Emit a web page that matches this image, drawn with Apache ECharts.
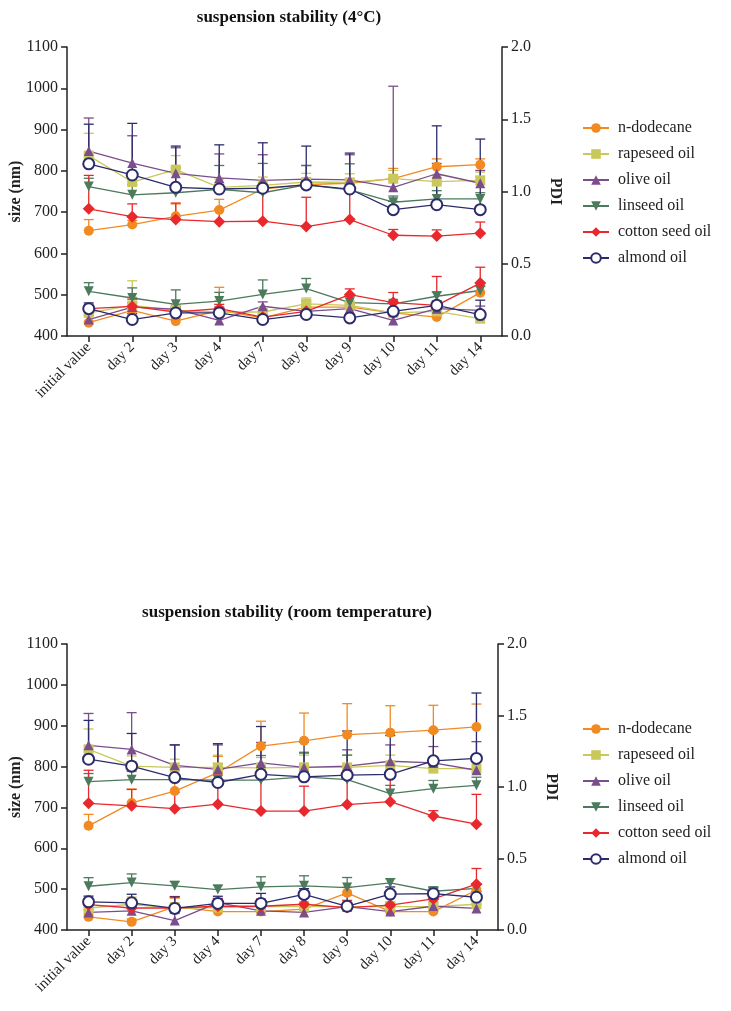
<!DOCTYPE html>
<html>
<head>
<meta charset="utf-8">
<script src="https://cdn.jsdelivr.net/npm/echarts@6/dist/echarts.min.js"></script>
<style>
  html, body { margin: 0; padding: 0; background: #fff; }
  #chart { width: 731px; height: 1011px; }
</style>
</head>
<body>
<div id="chart"></div>
<script>
const days = ['initial value', 'day 2', 'day 3', 'day 4', 'day 7', 'day 8', 'day 9', 'day 10', 'day 11', 'day 14']
const oils = ['n-dodecane', 'rapeseed oil', 'olive oil', 'linseed oil', 'cotton seed oil', 'almond oil']
const titles = ['suspension stability (4°C)', 'suspension stability (room temperature)']

// 4 °C : size (nm), one row per oil
const coldSize = [
  [655, 670, 690, 705, 756, 767, 770, 781, 810, 815],
  [837, 773, 803, 760, 765, 773, 772, 781, 774, 777],
  [848, 819, 794, 783, 777, 780, 778, 760, 793, 770],
  [762, 742, 747, 755, 747, 766, 754, 724, 732, 732],
  [708, 689, 682, 677, 678, 665, 682, 644, 642, 649],
  [817, 790, 760, 756, 758, 766, 756, 706, 718, 706]
]
const coldSizeErr = [
  [27, 10, 30, 26, 10, 10, 10, 25, 19, 14],
  [54, 20, 34, 20, 20, 21, 21, 20, 15, 20],
  [80, 66, 62, 58, 62, 33, 61, 245, 25, 31],
  [20, 25, 60, 58, 71, 47, 63, 15, 20, 15],
  [81, 31, 40, 30, 80, 71, 85, 14, 15, 27],
  [96, 125, 100, 107, 110, 94, 87, 20, 191, 171]
]
const coldPdi = [
  [0.092, 0.177, 0.103, 0.177, 0.125, 0.200, 0.200, 0.160, 0.131, 0.300],
  [0.160, 0.212, 0.177, 0.166, 0.166, 0.223, 0.212, 0.160, 0.171, 0.120],
  [0.114, 0.200, 0.186, 0.108, 0.206, 0.171, 0.189, 0.108, 0.189, 0.177],
  [0.309, 0.263, 0.219, 0.242, 0.288, 0.328, 0.231, 0.223, 0.275, 0.315],
  [0.189, 0.205, 0.166, 0.189, 0.131, 0.171, 0.286, 0.231, 0.212, 0.366],
  [0.189, 0.114, 0.160, 0.160, 0.114, 0.149, 0.125, 0.171, 0.212, 0.148]
]
const coldPdiErr = [
  [0.01, 0.09, 0.02, 0.16, 0.02, 0.02, 0.03, 0.02, 0.02, 0.05],
  [0.02, 0.17, 0.04, 0.08, 0.02, 0.04, 0.02, 0.03, 0.04, 0.02],
  [0.03, 0.03, 0.02, 0.05, 0.03, 0.07, 0.03, 0.03, 0.04, 0.03],
  [0.06, 0.07, 0.10, 0.06, 0.10, 0.07, 0.04, 0.02, 0.03, 0.03],
  [0.02, 0.05, 0.03, 0.03, 0.02, 0.03, 0.04, 0.07, 0.20, 0.11],
  [0.04, 0.04, 0.04, 0.04, 0.02, 0.04, 0.02, 0.02, 0.03, 0.10]
]

// room temperature
const roomSize = [
  [655, 711, 740, 785, 850, 863, 878, 883, 889, 897],
  [842, 801, 798, 798, 797, 798, 798, 803, 795, 795],
  [852, 842, 803, 793, 809, 798, 801, 813, 809, 791],
  [763, 768, 768, 767, 767, 775, 768, 734, 746, 754],
  [710, 704, 697, 708, 691, 691, 707, 714, 679, 659],
  [818, 801, 773, 761, 781, 775, 779, 781, 814, 820]
]
const roomSizeErr = [
  [28, 34, 25, 40, 61, 68, 76, 66, 61, 56],
  [50, 25, 20, 30, 25, 30, 30, 25, 20, 20],
  [78, 90, 50, 60, 50, 35, 40, 40, 40, 70],
  [20, 20, 30, 40, 60, 60, 60, 20, 20, 20],
  [81, 40, 40, 50, 90, 61, 80, 90, 13, 73],
  [95, 80, 80, 95, 117, 85, 108, 95, 72, 160]
]
const roomPdi = [
  [0.092, 0.057, 0.163, 0.129, 0.129, 0.146, 0.260, 0.129, 0.129, 0.280],
  [0.154, 0.180, 0.151, 0.157, 0.163, 0.163, 0.163, 0.163, 0.163, 0.180],
  [0.123, 0.134, 0.066, 0.191, 0.134, 0.123, 0.163, 0.129, 0.166, 0.151],
  [0.306, 0.332, 0.309, 0.283, 0.302, 0.309, 0.297, 0.329, 0.271, 0.291],
  [0.177, 0.154, 0.154, 0.166, 0.166, 0.180, 0.157, 0.174, 0.217, 0.320],
  [0.197, 0.190, 0.151, 0.186, 0.186, 0.249, 0.166, 0.251, 0.254, 0.229]
]
const roomPdiErr = [
  [0.02, 0.02, 0.06, 0.05, 0.05, 0.05, 0.04, 0.03, 0.02, 0.04],
  [0.02, 0.05, 0.04, 0.03, 0.03, 0.03, 0.03, 0.02, 0.02, 0.03],
  [0.02, 0.02, 0.05, 0.03, 0.03, 0.04, 0.03, 0.03, 0.03, 0.03],
  [0.06, 0.06, 0.03, 0.03, 0.07, 0.07, 0.07, 0.03, 0.03, 0.03],
  [0.03, 0.03, 0.08, 0.05, 0.05, 0.05, 0.05, 0.02, 0.02, 0.11],
  [0.04, 0.06, 0.08, 0.05, 0.07, 0.04, 0.08, 0.05, 0.04, 0.04]
]

const colors = ['#f28a22', '#c9c85a', '#7c4d8c', '#4b7a5c', '#e8282c', '#2c2c6c']
const symbols = ['circle', 'rect', 'triangle', 'path://M0,0 L10,0 L5,10 Z', 'diamond', 'emptyCircle']
const symbolSizes = [10, 10, 10, 10, 12, 11]

const serif = 'Liberation Serif'
const axisColor = '#222'

const panels = [
  { size: coldSize, sizeErr: coldSizeErr, pdi: coldPdi, pdiErr: coldPdiErr },
  { size: roomSize, sizeErr: roomSizeErr, pdi: roomPdi, pdiErr: roomPdiErr }
]

const chart = echarts.init(document.getElementById('chart'))

// upward error bar with a cap, drawn on the series' own axes
const errorRender = (color) => (params, api) => {
  const x = api.value(0)
  const v = api.value(1)
  const e = api.value(2)
  const p0 = api.coord([x, v])
  const p1 = api.coord([x, v + e])
  const w = 5
  const style = { stroke: color, lineWidth: 1.3 }
  return {
    type: 'group',
    children: [
      { type: 'line', shape: { x1: p0[0], y1: p0[1], x2: p1[0], y2: p1[1] }, style },
      { type: 'line', shape: { x1: p1[0] - w, y1: p1[1], x2: p1[0] + w, y2: p1[1] }, style }
    ]
  }
}

const lineSeries = []
const errSeries = []
panels.forEach((p, pi) => {
  oils.forEach((oil, i) => {
    const pairs = [[p.size, p.sizeErr, pi * 2], [p.pdi, p.pdiErr, pi * 2 + 1]]
    pairs.forEach(([vals, errs, yi]) => {
      lineSeries.push({
        name: oil,
        type: 'line',
        xAxisIndex: pi,
        yAxisIndex: yi,
        data: vals[i],
        symbol: symbols[i],
        symbolSize: symbolSizes[i],
        color: colors[i],
        lineStyle: { width: 1.3, color: colors[i] },
        itemStyle: symbols[i] === 'emptyCircle'
          ? { color: colors[i], borderWidth: 2.2, borderColor: colors[i] }
          : { color: colors[i] },
        z: 3,
        animation: false
      })
      errSeries.push({
        name: oil,
        type: 'custom',
        xAxisIndex: pi,
        yAxisIndex: yi,
        renderItem: errorRender(colors[i]),
        encode: { x: 0, y: 1 },
        data: vals[i].map((v, k) => [k, v, errs[i][k]]),
        z: 2,
        animation: false
      })
    })
  })
})

const grids = [
  { left: 67, top: 47, width: 435, height: 289, containLabel: false, outerBoundsMode: 'none' },
  { left: 67, top: 644, width: 431, height: 286, containLabel: false, outerBoundsMode: 'none' }
]

const axisCommon = {
  axisLine: { show: true, lineStyle: { color: axisColor, width: 1.5 } },
  axisTick: { show: true, length: 6, lineStyle: { color: axisColor, width: 1.5 } },
  splitLine: { show: false }
}

const xAxes = grids.map((g, i) => ({
  type: 'category',
  gridIndex: i,
  data: days,
  boundaryGap: true,
  ...axisCommon,
  axisTick: { ...axisCommon.axisTick, alignWithLabel: true },
  axisLabel: { rotate: 45, fontFamily: serif, fontSize: 15, color: axisColor, margin: 9 }
}))

const yAxes = []
grids.forEach((g, i) => {
  yAxes.push({
    type: 'value',
    gridIndex: i,
    position: 'left',
    min: 400,
    max: 1100,
    interval: 100,
    name: 'size (nm)',
    nameLocation: 'middle',
    nameGap: 43,
    nameMoveOverlap: false,
    nameTextStyle: { fontFamily: serif, fontWeight: 'bold', fontSize: 16, color: axisColor },
    ...axisCommon,
    axisLabel: { fontFamily: serif, fontSize: 16, color: axisColor, margin: 9, formatter: (v) => String(v) }
  })
  yAxes.push({
    type: 'value',
    gridIndex: i,
    position: 'right',
    min: 0,
    max: 2,
    interval: 0.5,
    name: 'PDI',
    nameLocation: 'middle',
    nameRotate: -90,
    nameGap: 45,
    nameMoveOverlap: false,
    nameTextStyle: { fontFamily: serif, fontWeight: 'bold', fontSize: 16, color: axisColor },
    ...axisCommon,
    axisLabel: { fontFamily: serif, fontSize: 16, color: axisColor, margin: 9, formatter: (v) => v.toFixed(1) }
  })
})

const legendCommon = {
  orient: 'vertical',
  left: 577,
  data: oils,
  itemWidth: 26,
  itemHeight: 12,
  itemGap: 10,
  textStyle: { fontFamily: serif, fontSize: 16, color: axisColor, padding: [0, 0, 0, 4] }
}

const option = {
  backgroundColor: '#fff',
  animation: false,
  title: [
    { text: titles[0], left: 284, top: 4, textAlign: 'center',
      textStyle: { fontFamily: serif, fontWeight: 'bold', fontSize: 17, color: '#111' } },
    { text: titles[1], left: 282, top: 599, textAlign: 'center',
      textStyle: { fontFamily: serif, fontWeight: 'bold', fontSize: 17, color: '#111' } }
  ],
  legend: [
    { ...legendCommon, top: 115 },
    { ...legendCommon, top: 716 }
  ],
  grid: grids,
  xAxis: xAxes,
  yAxis: yAxes,
  series: [...lineSeries, ...errSeries]
}

chart.setOption(option)
</script>
</body>
</html>
